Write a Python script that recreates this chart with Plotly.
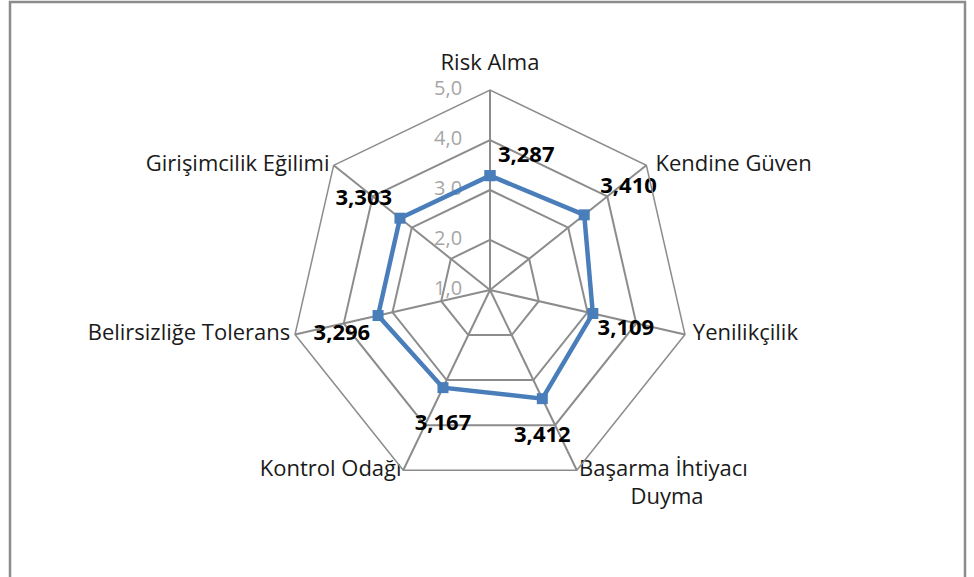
import plotly.graph_objects as go

categories = ["Risk Alma", "Kendine Güven", "Yenilikçilik", "Başarma İhtiyacı Duyma",
              "Kontrol Odağı", "Belirsizliğe Tolerans", "Girişimcilik Eğilimi"]
category_text = ["Risk Alma", "Kendine Güven", "Yenilikçilik",
                 "&nbsp;<br>Başarma İhtiyacı<br>" + "&nbsp;" * 9 + "Duyma",
                 "Kontrol Odağı", "Belirsizliğe Tolerans", "Girişimcilik Eğilimi"]
values = [3.287, 3.410, 3.109, 3.412, 3.167, 3.296, 3.303]
labels = ["3,287", "3,410", "3,109", "3,412", "3,167", "3,296", "3,303"]
tick_vals = [1, 2, 3, 4, 5]
tick_text = ["1,0", "2,0", "3,0", "4,0", "5,0"]
r_max = 5

label_pos = ["top right", "top right", "bottom right", "bottom center",
             "bottom center", "bottom left", "top left"]
label_pad = [11, 24, 6, 41, 40, 11, 11]
cat_pos = ["top center", "middle right", "middle right", "middle right",
           "middle left", "middle left", "middle left"]
cat_pad = [22, 13, 11, 2, 1, 6, 5]

W, H = 974, 577
cx, cy, R = 490, 290, 200

fig = go.Figure()
# category labels just outside the outer ring
fig.add_trace(go.Scatterpolar(
    r=[r_max] * len(categories),
    theta=categories,
    mode="markers+text",
    text=category_text,
    textposition=cat_pos,
    textfont=dict(family="Open Sans, Arial", size=22, color="#1a1a1a"),
    marker=dict(size=cat_pad, opacity=0),
    hoverinfo="skip", showlegend=False, cliponaxis=False,
))
# radial tick labels, drawn along the first spoke
fig.add_trace(go.Scatterpolar(
    r=tick_vals,
    theta=[categories[0]] * len(tick_vals),
    mode="markers+text",
    text=tick_text,
    textposition="middle left",
    textfont=dict(family="Open Sans, Arial", size=20, color="#a6a6a6"),
    marker=dict(size=43, opacity=0),
    hoverinfo="skip", showlegend=False, cliponaxis=False,
))
# data series
fig.add_trace(go.Scatterpolar(
    r=values + values[:1],
    theta=categories + categories[:1],
    mode="lines+markers",
    line=dict(color="#4a7ebb", width=4.5),
    marker=dict(symbol="square", size=11, color="#4a7ebb"),
    showlegend=False, cliponaxis=False,
))
# data labels
fig.add_trace(go.Scatterpolar(
    r=values,
    theta=categories,
    mode="markers+text",
    text=labels,
    textposition=label_pos,
    textfont=dict(family="Open Sans, Arial", size=22, color="black", weight="bold"),
    marker=dict(size=label_pad, opacity=0),
    hoverinfo="skip", showlegend=False, cliponaxis=False,
))

fig.update_layout(
    width=W, height=H,
    margin=dict(l=0, r=0, t=0, b=0),
    paper_bgcolor="white",
    plot_bgcolor="white",
    polar=dict(
        domain=dict(x=[(cx - R) / W, (cx + R) / W], y=[(H - cy - R) / H, (H - cy + R) / H]),
        gridshape="linear",
        bgcolor="white",
        radialaxis=dict(
            range=[0.999, 5], tickvals=tick_vals, showticklabels=False,
            angle=90, showline=False, ticks="",
            gridcolor="#8c8c8c", gridwidth=1.5,
        ),
        angularaxis=dict(
            direction="clockwise", rotation=90,
            showline=True, linecolor="#8c8c8c", linewidth=1.5,
            gridcolor="#8c8c8c", gridwidth=1.5, ticks="",
            showticklabels=False,
        ),
    ),
    font=dict(family="Open Sans, Arial"),
    shapes=[dict(type="rect", xref="paper", yref="paper",
                 x0=10 / W, x1=965 / W, y0=-0.05, y1=(H - 2) / H,
                 line=dict(color="#8c8c8c", width=2.5), fillcolor="rgba(0,0,0,0)")],
)

fig.write_html("out.html", config={"displayModeBar": False},
               post_script="document.body.style.margin='0';")
